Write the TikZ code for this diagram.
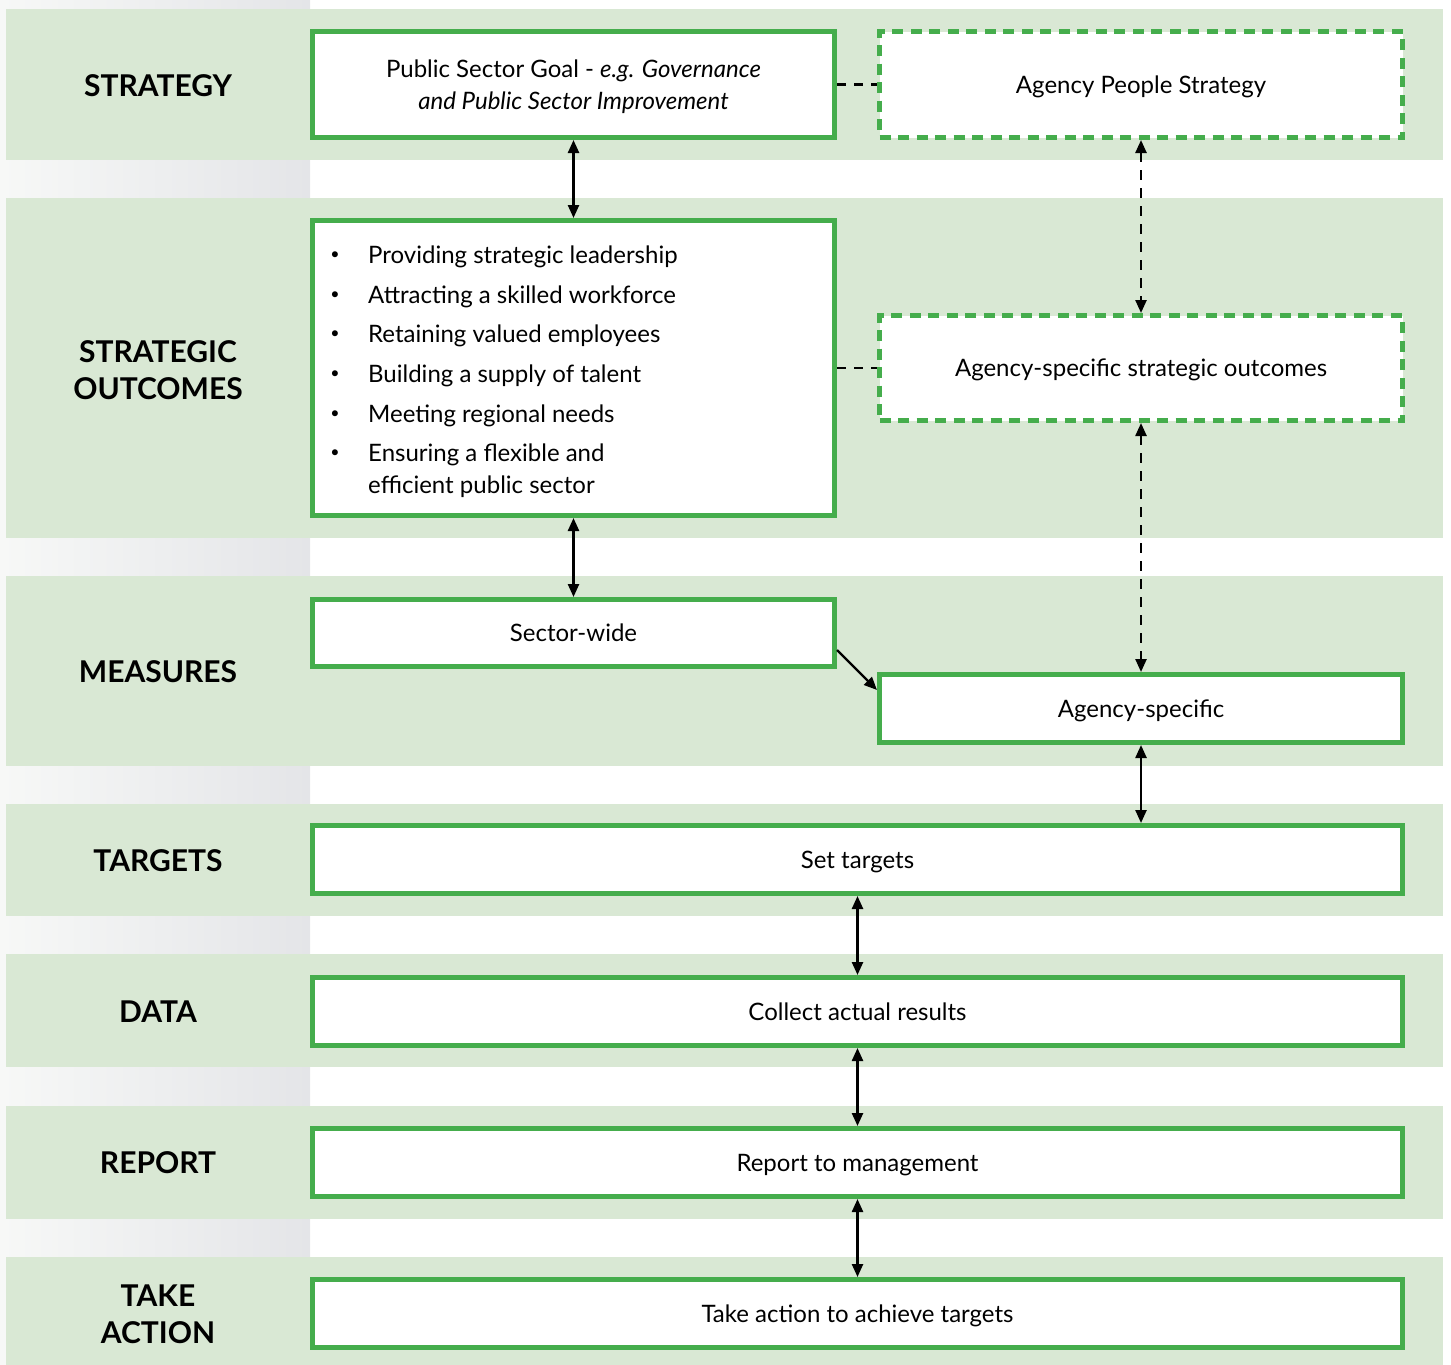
\documentclass[tikz,border=0pt]{standalone}
\usepackage{fontspec}
\setmainfont{Lato}
\usetikzlibrary{arrows.meta,calc}
\definecolor{bandgreen}{HTML}{D9E8D4}
\definecolor{boxgreen}{HTML}{45AD4C}
\definecolor{stripL}{HTML}{F7F8F7}
\definecolor{stripR}{HTML}{E4E5E8}
\begin{document}
\begin{tikzpicture}[x=1pt,y=-1pt,
  stage/.style={font=\fontsize{30}{37}\selectfont\bfseries, align=center},
  solidbox/.style={draw=boxgreen, line width=5pt, fill=white, rectangle,
    inner sep=0pt, text depth=0pt, align=center, font=\fontsize{24}{32}\selectfont},
  dashbox/.style={solidbox, dash pattern=on 11pt off 7.5pt},
  link/.style={line width=2.4pt,
    {Triangle[length=13pt,width=11pt]}-{Triangle[length=13pt,width=11pt]}},
  dlink/.style={link, dash pattern=on 10pt off 8pt},
  itemtext/.style={anchor=base west, inner sep=0pt, font=\fontsize{24}{30}\selectfont},
  dot/.style={anchor=base, inner sep=0pt, font=\fontsize{16}{20}\selectfont},
]
\useasboundingbox (0,0) rectangle (1451,1365);

% grey strip on the left behind the rows
\shade[left color=stripL, right color=stripR] (0,0) rectangle (310,1365);

% row bands
\foreach \top/\bot in {9/160, 198/538, 576/766, 804/916, 954/1067, 1106/1219, 1257/1365}
  \fill[bandgreen] (6,\top) rectangle (1443,\bot);

% row titles
\node[stage] (tStrategy) at (158,86) {STRATEGY};
\node[stage] (tOutcomes) at (158,370) {STRATEGIC\\OUTCOMES};
\node[stage] (tMeasures) at (158,672) {MEASURES};
\node[stage] (tTargets) at (158,861) {TARGETS};
\node[stage] (tData) at (158,1012) {DATA};
\node[stage] (tReport) at (158,1163) {REPORT};
\node[stage] (tAction) at (158,1314) {TAKE\\ACTION};

% boxes
\node[solidbox, minimum width=522pt, minimum height=106pt] (goal) at (573.5,84.5)
  {Public Sector Goal - \textit{e.g. Governance}\\\textit{and Public Sector Improvement}};
\node[dashbox, minimum width=523pt, minimum height=106pt] (peopleStrat) at (1141,84.5)
  {Agency People Strategy};
\node[solidbox, minimum width=522pt, minimum height=295pt] (outcomes) at (573.5,368) {};
\node[dashbox, minimum width=523pt, minimum height=105pt] (agencyOut) at (1141,368)
  {Agency-specific strategic outcomes};
\node[solidbox, minimum width=522pt, minimum height=67pt] (sector) at (573.5,633)
  {Sector-wide};
\node[solidbox, minimum width=523pt, minimum height=68pt] (agencySpec) at (1141,708.5)
  {Agency-specific};
\node[solidbox, minimum width=1090pt, minimum height=68pt] (targets) at (857.5,859.5)
  {Set targets};
\node[solidbox, minimum width=1090pt, minimum height=68pt] (collect) at (857.5,1011.5)
  {Collect actual results};
\node[solidbox, minimum width=1090pt, minimum height=68pt] (report) at (857.5,1162.5)
  {Report to management};
\node[solidbox, minimum width=1090pt, minimum height=68pt] (action) at (857.5,1313.5)
  {Take action to achieve targets};

% strategic outcome list
\foreach \n/\y/\txt in {1/263/Providing strategic leadership,
                        2/303/Attracting a skilled workforce,
                        3/342/Retaining valued employees,
                        4/382/Building a supply of talent,
                        5/422/Meeting regional needs,
                        6/461/Ensuring a flexible and}{
  \node[dot] (dot\n) at (335,\y-4) {•};
  \node[itemtext] (item\n) at (368,\y) {\txt};
}
\node[itemtext] (item7) at (368,493) {efficient public sector};

% connectors
\draw[link] (goal.south) -- (outcomes.north);
\draw[link] (outcomes.south) -- (sector.north);
\draw[dlink] (peopleStrat.south) -- (agencyOut.north);
\draw[dlink] (agencyOut.south) -- (agencySpec.north);
\draw[line width=2.4pt, -{Triangle[length=13pt,width=11pt]}]
  ([yshift=-17pt]sector.east) -- ([yshift=18.5pt]agencySpec.west);
\draw[link] (agencySpec.south) -- (agencySpec.south |- targets.north);
\draw[link] (targets.south) -- (collect.north);
\draw[link] (collect.south) -- (report.north);
\draw[link] (report.south) -- (action.north);
\draw[line width=2.4pt, dash pattern=on 9pt off 8pt] (goal.east) -- (goal.east -| peopleStrat.west);
\draw[line width=2.4pt, dash pattern=on 9pt off 8pt] (outcomes.east) -- (agencyOut.west);
\end{tikzpicture}
\end{document}
